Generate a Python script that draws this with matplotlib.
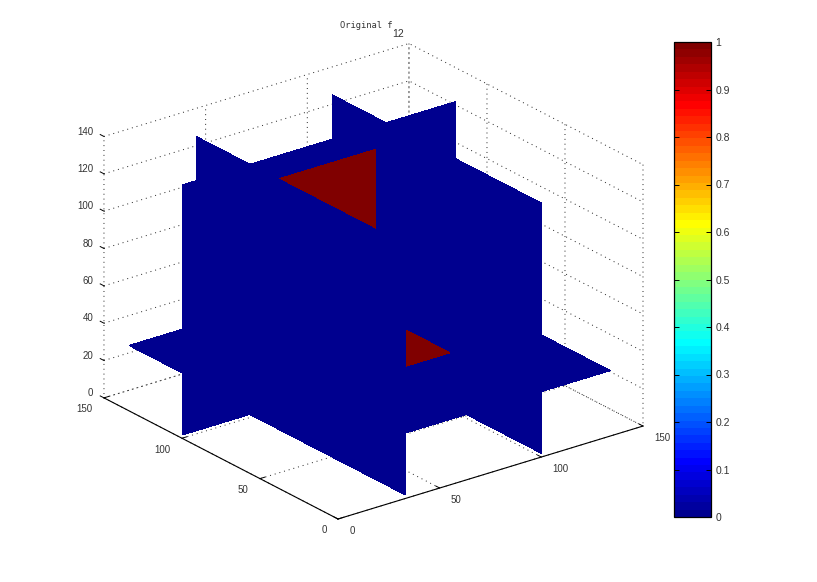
import numpy as np
import matplotlib
matplotlib.use("Agg")
import matplotlib.pyplot as plt
from matplotlib.colors import ListedColormap, Normalize
from matplotlib.cm import ScalarMappable
from matplotlib.transforms import Affine2D
from mpl_toolkits.mplot3d import proj3d
from mpl_toolkits.mplot3d.art3d import Poly3DCollection

# ---- data ----
title_text = "Original f"
stray_label = "12"
x_ticks = [0, 50, 100, 150]
y_ticks = [0, 50, 100, 150]
z_ticks = [0, 20, 40, 60, 80, 100, 120, 140]
cbar_ticks = [0, 0.1, 0.2, 0.3, 0.4, 0.5, 0.6, 0.7, 0.8, 0.9, 1]
cbar_labels = ["0", "0.1", "0.2", "0.3", "0.4", "0.5", "0.6", "0.7", "0.8", "0.9", "1"]
vol_xy = 134      # extent of the volume in x and y
vol_z = [2, 136]  # extent of the volume in z
slice_x = [33, 100]
slice_y = [99.5]
slice_z = [35]
cube_x = [33, 95]
cube_y = [52, 99.5]
cube_z = [35, 123.5]
value_low = 0.0
value_high = 1.0

plt.rcParams['font.family'] = ['Liberation Sans', 'DejaVu Sans']
plt.rcParams['grid.color'] = '#222222'
plt.rcParams['grid.linestyle'] = (0, (1, 4))
plt.rcParams['grid.linewidth'] = 0.7

W, H = 817, 582
fig = plt.figure(figsize=(W / 100, H / 100), dpi=100)

# MATLAB's 64-level jet
idx = np.arange(64)
anch = [0, 7, 23, 39, 55, 63]
jet64 = ListedColormap(np.c_[np.interp(idx, anch, [0, 0, 0, 1, 1, .5]),
                             np.interp(idx, anch, [0, 0, 1, 1, 0, 0]),
                             np.interp(idx, anch, [.5625, 1, 1, 0, 0, 0])])
norm = Normalize(0, 1)
blue = jet64(norm(value_low))
red = jet64(norm(value_high))

ax = fig.add_axes([0.1, 0.1, 0.8, 0.8], projection='3d', proj_type='ortho')
ax.computed_zorder = False
ax.view_init(elev=23.4, azim=-127.5)
ax.set_box_aspect((384, 384, 284.5), zoom=1.0)
ax.set_xlim(0, 150, view_margin=0)
ax.set_ylim(0, 150, view_margin=0)
ax.set_zlim(0, 140, view_margin=0)
ax.set_xticks(x_ticks)
ax.set_yticks(y_ticks)
ax.set_zticks(z_ticks)
ax.patch.set_alpha(0)
for a in (ax.xaxis, ax.yaxis, ax.zaxis):
    a.set_pane_color((1, 1, 1, 0))
    a.pane.set_edgecolor((1, 1, 1, 0))
    a._axinfo['tick']['inward_factor'] = 0.0
    a._axinfo['tick']['outward_factor'] = 0.2
    a._axinfo['tick']['linewidth'] = {True: 0.7, False: 0.4}
ax.zaxis.line.set_visible(False)
ax.zaxis._get_tickdir = lambda pos: 1
ax.tick_params(axis='x', labelsize=7, labelcolor='#333333', pad=-4)
ax.tick_params(axis='y', labelsize=7, labelcolor='#333333', pad=-4)
ax.tick_params(axis='z', labelsize=7, labelcolor='#333333', pad=-2)


def nudge(label, dx, dy):
    """Shift a 3D tick label by a few pixels from where mplot3d puts it."""
    shift = Affine2D().translate(dx, dy)
    label.get_transform = lambda: ax.transData + shift


for t in ax.xaxis.get_major_ticks():
    t.label1.set_ha('left')
    nudge(t.label1, 7, 0)
for t in ax.yaxis.get_major_ticks():
    t.label1.set_ha('right')
    nudge(t.label1, -6, 0)
for t in ax.zaxis.get_major_ticks():
    t.label1.set_ha('right')
    t.label1.set_va('bottom')
    nudge(t.label1, 4, -1)


def plane_x(v, y0, y1, z0, z1):
    return [(v, y0, z0), (v, y1, z0), (v, y1, z1), (v, y0, z1)]


def plane_y(v, x0, x1, z0, z1):
    return [(x0, v, z0), (x1, v, z0), (x1, v, z1), (x0, v, z1)]


def plane_z(v, x0, x1, y0, y1):
    return [(x0, y0, v), (x1, y0, v), (x1, y1, v), (x0, y1, v)]


near_x, far_x = slice_x
yc = slice_y[0]
zc = slice_z[0]
z0, z1 = vol_z
layers = [
    (plane_y(yc, 0, vol_xy, z0, z1), blue),
    (plane_x(far_x, 0, vol_xy, z0, z1), blue),
    (plane_z(zc, 0, vol_xy, 0, vol_xy), blue),
    (plane_x(near_x, yc, vol_xy, z0, z1), blue),
    (plane_x(near_x, 0, yc, z0, zc), blue),
    (plane_y(yc, cube_x[0], cube_x[1], cube_z[0], cube_z[1]), red),
    (plane_z(zc, cube_x[0], cube_x[1], cube_y[0], cube_y[1]), red),
    (plane_x(near_x, 0, yc, zc, z1), blue),
]
for i, (verts, col) in enumerate(layers):
    ax.add_collection3d(Poly3DCollection([verts], facecolors=[col], edgecolors='none',
                                         linewidths=0, antialiaseds=False, zorder=5 + i))

# fit the 3D box to the reference's pixel frame
target_o = np.array([338.0, H - 519.0])
target_x = np.array([643.0, H - 426.0])


def project(p):
    xs, ys, _ = proj3d.proj_transform(p[0], p[1], p[2], ax.get_proj())
    return ax.transData.transform((xs, ys))


S = 0.8 * H
fig.canvas.draw()
ax.set_position([(W - S) / 2 / W, (H - S) / 2 / H, S / W, S / H])
fig.canvas.draw()
for _ in range(3):
    o, e = project((0, 0, 0)), project((150, 0, 0))
    k = (target_x[0] - target_o[0]) / (e[0] - o[0])
    pos = ax.get_position()
    cx, cy = (pos.x0 + pos.x1) / 2 * W, (pos.y0 + pos.y1) / 2 * H
    S2 = pos.width * W * k
    cx2 = target_o[0] + (cx - o[0]) * k
    cy2 = target_o[1] + (cy - o[1]) * k
    ax.set_position([(cx2 - S2 / 2) / W, (cy2 - S2 / 2) / H, S2 / W, S2 / H])
    fig.canvas.draw()

fig.text(366 / W, 1 - 26 / H, title_text, family='DejaVu Sans Mono', fontsize=6.3,
         ha='center', va='center', color='#333333')
fig.text(398 / W, 1 - 34 / H, stray_label, fontsize=7.5, ha='center', va='center', color='#333333')

cax = fig.add_axes([674 / W, 1 - 517 / H, 37 / W, 475 / H])
cb = fig.colorbar(ScalarMappable(norm=norm, cmap=jet64), cax=cax)
cb.set_ticks(cbar_ticks, labels=cbar_labels)
cax.tick_params(direction='in', left=True, right=True, length=3.5, width=0.7,
                labelsize=7.5, labelcolor='#333333', pad=3)
cb.outline.set_linewidth(0.9)

fig.savefig('out.png', dpi=100)
